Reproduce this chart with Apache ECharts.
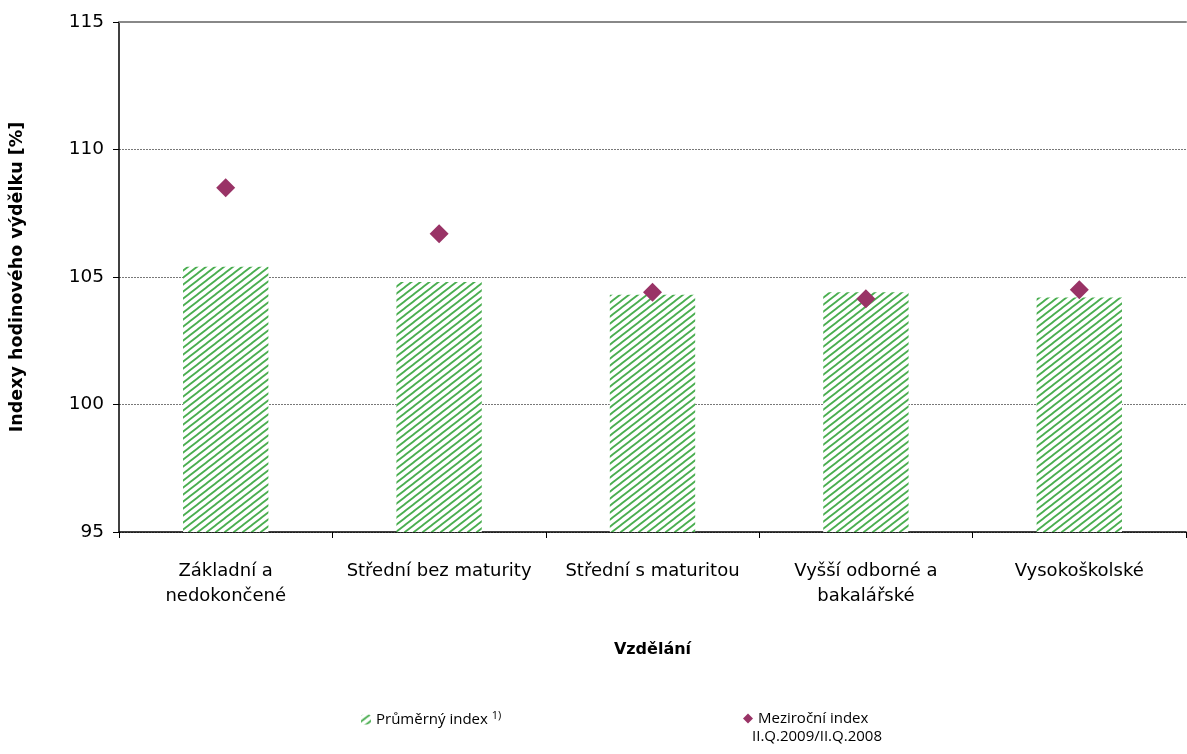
<!DOCTYPE html>
<html>
<head>
<meta charset="utf-8">
<script src="https://cdn.jsdelivr.net/npm/echarts@6/dist/echarts.min.js"></script>
<style>html,body{margin:0;padding:0;background:#fff;}#c{width:1187px;height:754px;}</style>
</head>
<body>
<div id="c"></div>
<script>
var categories = ['Základní a\nnedokončené', 'Střední bez maturity', 'Střední s maturitou', 'Vyšší odborné a\nbakalářské', 'Vysokoškolské'];
var prumernyIndex = [105.4, 104.8, 104.3, 104.4, 104.2];
var mezirocniIndex = [108.5, 106.7, 104.4, 104.15, 104.5];
var yTicks = [95, 100, 105, 110, 115];

function makePattern() {
  var w = 9, h = 7;
  var c = document.createElement('canvas');
  c.width = w; c.height = h;
  var ctx = c.getContext('2d');
  ctx.fillStyle = '#ffffff';
  ctx.fillRect(0, 0, w, h);
  ctx.strokeStyle = '#4aae50';
  ctx.lineWidth = 1.8;
  ctx.beginPath();
  for (var k = -1; k <= 1; k++) {
    ctx.moveTo(-3 + k * w, h + 2.33); ctx.lineTo(w + 3 + k * w, -2.33);
  }
  ctx.stroke();
  return c;
}
var pat = makePattern();

var font = 'DejaVu Sans';
var chart = echarts.init(document.getElementById('c'));
chart.setOption({
  animation: false,
  grid: { left: 119, right: 1, top: 22, bottom: 222, containLabel: false },
  legend: [
    {
      left: 356, top: 705, itemWidth: 10, itemHeight: 10, itemGap: 4,
      data: [{ name: 'Průměrný index', icon: 'roundRect' }],
      formatter: function () { return '{a|Průměrný index }{s|1)}'; },
      textStyle: { rich: { a: { fontFamily: 'Open Sans', fontSize: 15, color: '#000' }, s: { fontFamily: 'Open Sans', fontSize: 11, color: '#000', verticalAlign: 'top', padding: [0, 0, 8, 0] } } }
    },
    {
      left: 738, top: 706, itemWidth: 10, itemHeight: 10, itemGap: 4,
      data: [{ name: 'Meziroční index', icon: 'diamond', itemStyle: { opacity: 1 } }],
      textStyle: { fontFamily: 'Open Sans', fontSize: 15, color: '#000' }
    }
  ],
  graphic: [
    { type: 'text', left: 752, top: 729, style: { text: 'II.Q.2009/II.Q.2008', fontFamily: 'Open Sans', fontSize: 15, fill: '#000' } }
  ],
  xAxis: [
    {
      type: 'category', data: categories,
      name: 'Vzdělání', nameLocation: 'middle', nameGap: 110,
      nameTextStyle: { fontFamily: font, fontSize: 16, fontWeight: 'bold', color: '#000' },
      axisLine: { lineStyle: { color: '#000', width: 1.5 } },
      axisTick: { show: true, length: 6, lineStyle: { color: '#000' } },
      axisLabel: { interval: 0, fontFamily: font, fontSize: 18, color: '#000', margin: 27, lineHeight: 25 }
    },
    {
      type: 'category', data: categories, position: 'top',
      axisLine: { show: true, lineStyle: { color: '#888', width: 2 } },
      axisTick: { show: false }, axisLabel: { show: false }
    }
  ],
  yAxis: {
    type: 'value', min: 95, max: 115, interval: 5,
    name: 'Indexy hodinového výdělku [%]', nameLocation: 'middle', nameGap: 93, nameRotate: 90,
    nameTextStyle: { fontFamily: font, fontSize: 17.5, fontWeight: 'bold', color: '#000' },
    axisLine: { show: true, lineStyle: { color: '#000', width: 1.5 } },
    axisTick: { show: true, length: 6, lineStyle: { color: '#000' } },
    axisLabel: { fontFamily: font, fontSize: 18.5, color: '#000', margin: 15,
      formatter: function (v) { return yTicks.indexOf(v) >= 0 ? String(v) : ''; } },
    splitLine: { show: true, lineStyle: { color: '#555', type: [2, 1], width: 0.8 } }
  },
  series: [
    {
      name: 'Průměrný index', type: 'bar', data: prumernyIndex, barWidth: '40%',
      itemStyle: { color: { image: pat, repeat: 'repeat' } }
    },
    {
      name: 'Meziroční index', type: 'scatter', data: mezirocniIndex,
      symbol: 'diamond', symbolSize: [19, 19],
      itemStyle: { color: '#993366', opacity: 1 }, z: 5
    }
  ]
});
</script>
</body>
</html>
